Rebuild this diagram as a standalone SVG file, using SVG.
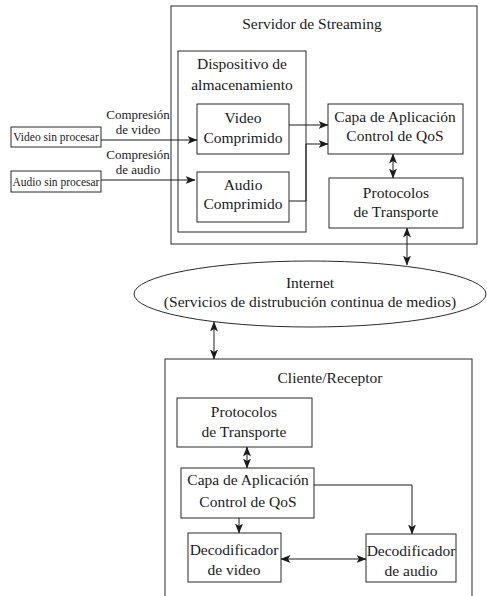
<svg xmlns="http://www.w3.org/2000/svg" width="487" height="596" viewBox="0 0 487 596">
<defs>
<marker id="ah" viewBox="0 0 10 8" refX="9.5" refY="4" markerWidth="10" markerHeight="8" markerUnits="userSpaceOnUse" orient="auto-start-reverse">
<path d="M0,0 L10,4 L0,8 L2.5,4 z" fill="#1a1a1a"/>
</marker>
<style>
.box{fill:#fff;stroke:#2a2a2a;stroke-width:1}
.t{font-family:"Liberation Serif","DejaVu Serif",serif;font-size:15.5px;fill:#1a1a1a;text-anchor:middle}
.s{font-size:13px}
.xs{font-size:11.5px}
.c{fill:none;stroke:#1a1a1a;stroke-width:1}
</style>
</defs>
<rect width="487" height="596" fill="#fff"/>

<g id="servidor">
<rect class="box" x="171" y="6" width="306" height="238"/>
<text class="t" x="312" y="29">Servidor de Streaming</text>
</g>
<g id="dispositivo">
<rect class="box" x="178" y="51" width="128" height="181"/>
<text class="t" x="242" y="69">Dispositivo de</text>
<text class="t" x="242" y="90">almacenamiento</text>
</g>
<g id="video-comprimido">
<rect class="box" x="197" y="104" width="92" height="50"/>
<text class="t" x="243" y="123">Video</text>
<text class="t" x="243" y="143">Comprimido</text>
</g>
<g id="audio-comprimido">
<rect class="box" x="197" y="172" width="92" height="50"/>
<text class="t" x="243" y="190">Audio</text>
<text class="t" x="243" y="209">Comprimido</text>
</g>
<g id="capa-servidor">
<rect class="box" x="328" y="104" width="135" height="50"/>
<text class="t" x="395" y="122">Capa de Aplicación</text>
<text class="t" x="395" y="141">Control de QoS</text>
</g>
<g id="protocolos-servidor">
<rect class="box" x="329" y="178" width="134" height="50"/>
<text class="t" x="396" y="198">Protocolos</text>
<text class="t" x="396" y="217">de Transporte</text>
</g>
<g id="video-sin-procesar">
<rect class="box" x="11" y="127" width="90" height="20"/>
<text class="t xs" x="56" y="141">Video sin procesar</text>
</g>
<g id="audio-sin-procesar">
<rect class="box" x="11" y="171" width="90" height="21"/>
<text class="t xs" x="56" y="186">Audio sin procesar</text>
</g>
<g id="internet">
<ellipse cx="310" cy="294" rx="176" ry="33" fill="#fff" stroke="#2a2a2a" stroke-width="1"/>
<text class="t" x="310" y="288">Internet</text>
<text class="t" x="310" y="307">(Servicios de distrubución continua de medios)</text>
</g>
<g id="cliente">
<rect class="box" x="165" y="359" width="307" height="245"/>
<text class="t" x="330" y="383">Cliente/Receptor</text>
</g>
<g id="protocolos-cliente">
<rect class="box" x="177" y="398" width="135" height="49"/>
<text class="t" x="244" y="417">Protocolos</text>
<text class="t" x="244" y="437">de Transporte</text>
</g>
<g id="capa-cliente">
<rect class="box" x="181" y="468" width="133" height="50"/>
<text class="t" x="248" y="485">Capa de Aplicación</text>
<text class="t" x="248" y="507">Control de QoS</text>
</g>
<g id="decodificador-video">
<rect class="box" x="188" y="533" width="93" height="49"/>
<text class="t" x="234" y="555">Decodificador</text>
<text class="t" x="234" y="575">de video</text>
</g>
<g id="decodificador-audio">
<rect class="box" x="366" y="534" width="90" height="48"/>
<text class="t" x="411" y="556">Decodificador</text>
<text class="t" x="411" y="576">de audio</text>
</g>

<g id="connectors">
<path class="c" d="M101,140 H197" marker-end="url(#ah)"/>
<text class="t s" x="138" y="119">Compresión</text>
<text class="t s" x="138" y="134">de video</text>
<path class="c" d="M101,180 H195" marker-end="url(#ah)"/>
<text class="t s" x="138" y="159">Compresión</text>
<text class="t s" x="138" y="174">de audio</text>
<path class="c" d="M289,125 H328" marker-end="url(#ah)"/>
<path class="c" d="M289,201 H306 V144 H328" marker-end="url(#ah)"/>
<path class="c" d="M393,154 V178" marker-start="url(#ah)" marker-end="url(#ah)"/>
<path class="c" d="M407,228 V265" marker-start="url(#ah)" marker-end="url(#ah)"/>
<path class="c" d="M214,322 V359" marker-start="url(#ah)" marker-end="url(#ah)"/>
<path class="c" d="M247,447 V468" marker-start="url(#ah)" marker-end="url(#ah)"/>
<path class="c" d="M239,518 V533" marker-end="url(#ah)"/>
<path class="c" d="M314,485 H412 V534" marker-end="url(#ah)"/>
<path class="c" d="M281,559 H366" marker-start="url(#ah)" marker-end="url(#ah)"/>
</g>
</svg>
